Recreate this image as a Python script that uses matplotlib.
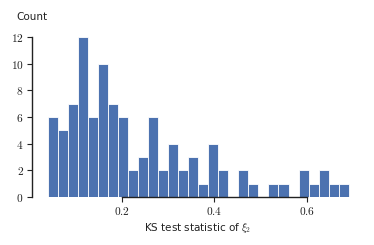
import numpy as np
import matplotlib
matplotlib.use('Agg')
import matplotlib.pyplot as plt

# Histogram counts (30 equal bins)
counts = [6, 5, 7, 12, 6, 10, 7, 6, 2, 3, 6, 2, 4, 2, 3,
          1, 4, 2, 0, 2, 1, 0, 1, 1, 0, 2, 1, 2, 1, 1]
bin_lo = 0.040
bin_hi = 0.691
xticks = [0.2, 0.4, 0.6]
yticks = [0, 2, 4, 6, 8, 10, 12]

plt.rcParams['mathtext.fontset'] = 'cm'
plt.rcParams['font.family'] = 'DejaVu Sans'
plt.rcParams['font.size'] = 7.5

edges = np.linspace(bin_lo, bin_hi, len(counts) + 1)
centers = (edges[:-1] + edges[1:]) / 2

fig = plt.figure(figsize=(3.74, 2.45), dpi=100)
ax = fig.add_axes([0.0856, 0.196, 0.888, 0.686])

ax.hist(centers, bins=edges, weights=counts, color='#4C72B0',
        edgecolor='white', linewidth=0.6)

ax.set_xlim(0.0055, 0.7245)
ax.set_ylim(0, 12.6)

ax.set_xticks(xticks)
ax.set_xticklabels(['$%.1f$' % t for t in xticks])
ax.set_yticks(yticks)
ax.set_yticklabels(['$%d$' % t for t in yticks])
ax.tick_params(direction='out', length=3.5, width=0.8, colors='#222222',
               labelsize=8.2, pad=2.5)

# trimmed spines like seaborn despine(trim=True)
for s in ['top', 'right']:
    ax.spines[s].set_visible(False)
ax.spines['left'].set_bounds(0, 12)
ax.spines['bottom'].set_bounds(0.2, 0.6)
for s in ['left', 'bottom']:
    ax.spines[s].set_linewidth(1.0)
    ax.spines[s].set_color('#222222')

ax.set_xlabel(r'KS test statistic of $\xi_2$', fontsize=7.5, labelpad=3,
              color='#222222')
fig.text(0.045, 0.93, 'Count', fontsize=7.5, va='center', ha='left',
         color='#222222')

fig.savefig('out.png', dpi=100)
